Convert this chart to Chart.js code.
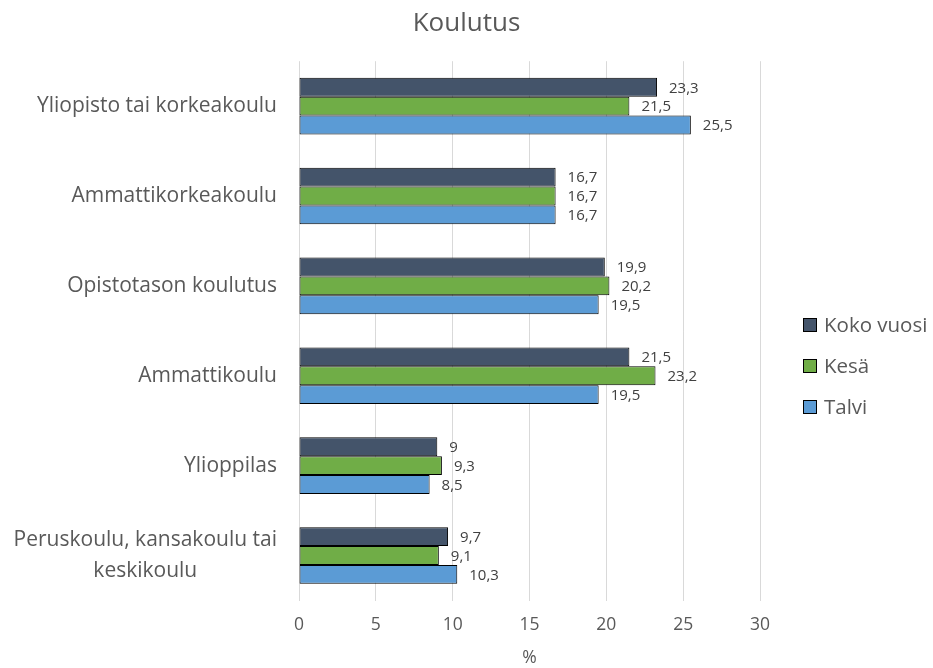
<!DOCTYPE html>
<html>
<head>
<meta charset="utf-8">
<script src="https://cdn.jsdelivr.net/npm/chart.js@4.4.1/dist/chart.umd.min.js"></script>
<style>
  html, body { margin: 0; padding: 0; background: #fff; }
  #wrap { width: 933px; height: 668px; }
</style>
</head>
<body>
<div id="wrap"><canvas id="chart" width="933" height="668"></canvas></div>
<script>
// categories top to bottom
const categories = [
  "Yliopisto tai korkeakoulu",
  "Ammattikorkeakoulu",
  "Opistotason koulutus",
  "Ammattikoulu",
  "Ylioppilas",
  ["Peruskoulu, kansakoulu tai", "keskikoulu"]
];
const seriesNames = ["Koko vuosi", "Kesä", "Talvi"];
const kokoVuosi = [23.3, 16.7, 19.9, 21.5, 9, 9.7];
const kesa = [21.5, 16.7, 20.2, 23.2, 9.3, 9.1];
const talvi = [25.5, 16.7, 19.5, 19.5, 8.5, 10.3];
const xTicks = [0, 5, 10, 15, 20, 25, 30];

const colors = ["#44546A", "#70AD47", "#5B9BD5"];
const FONT = "'Open Sans', 'Noto Sans', sans-serif";

// value labels next to bars, finnish decimal comma
const valueLabels = {
  id: "valueLabels",
  afterDatasetsDraw(chart) {
    const ctx = chart.ctx;
    ctx.save();
    ctx.font = "15px " + FONT;
    ctx.fillStyle = "#404040";
    ctx.textBaseline = "middle";
    ctx.textAlign = "left";
    chart.data.datasets.forEach((ds, i) => {
      chart.getDatasetMeta(i).data.forEach((bar, j) => {
        ctx.fillText(String(ds.data[j]).replace(".", ","), bar.x + 12, bar.y + 1);
      });
    });
    ctx.restore();
  }
};

// category labels: right aligned block, wrapped lines centred inside it (like Excel)
const categoryLabels = {
  id: "categoryLabels",
  afterDraw(chart) {
    const ctx = chart.ctx;
    const yScale = chart.scales.y;
    const right = chart.chartArea.left - 22;
    const lineH = 31;
    ctx.save();
    ctx.font = "21px " + FONT;
    ctx.fillStyle = "#595959";
    ctx.textBaseline = "middle";
    chart.data.labels.forEach((lab, i) => {
      const lines = Array.isArray(lab) ? lab : [lab];
      const widest = Math.max(...lines.map(l => ctx.measureText(l).width));
      const cx = right - widest / 2;
      const yc = yScale.getPixelForValue(i);
      ctx.textAlign = "center";
      lines.forEach((l, k) => {
        ctx.fillText(l, cx, yc + (k - (lines.length - 1) / 2) * lineH);
      });
    });
    ctx.restore();
  }
};

// legend drawn by hand so it can sit away from the plot
const sideLegend = {
  id: "sideLegend",
  afterDraw(chart) {
    const ctx = chart.ctx;
    ctx.save();
    ctx.font = "20.5px " + FONT;
    ctx.textBaseline = "middle";
    chart.data.datasets.forEach((ds, i) => {
      const y = 325 + i * 41;
      ctx.fillStyle = ds.backgroundColor;
      ctx.fillRect(803, y - 7, 14, 14);
      ctx.strokeStyle = "#000";
      ctx.lineWidth = 1;
      ctx.strokeRect(803.5, y - 6.5, 13, 13);
      ctx.fillStyle = "#595959";
      ctx.fillText(ds.label, 824, y + 1);
    });
    ctx.restore();
  }
};

const ctx = document.getElementById("chart").getContext("2d");
const chart = new Chart(ctx, {
  type: "bar",
  data: {
    labels: categories,
    datasets: [
      { label: seriesNames[0], data: kokoVuosi, backgroundColor: colors[0] },
      { label: seriesNames[1], data: kesa, backgroundColor: colors[1] },
      { label: seriesNames[2], data: talvi, backgroundColor: colors[2] }
    ].map(d => Object.assign(d, { borderColor: "#000", borderWidth: 1, borderSkipped: false }))
  },
  options: {
    indexAxis: "y",
    responsive: false,
    animation: false,
    categoryPercentage: 0.63,
    barPercentage: 1,
    layout: { padding: { left: 0, right: 0, top: 0, bottom: 1 } },
    plugins: {
      legend: { display: false },
      tooltip: { enabled: false },
      title: {
        display: true,
        text: "Koulutus",
        color: "#595959",
        font: { family: FONT, size: 26, weight: "normal" },
        padding: { top: 8, bottom: 22 }
      }
    },
    scales: {
      x: {
        min: 0,
        max: 30,
        afterBuildTicks(scale) { scale.ticks = xTicks.map(v => ({ value: v })); },
        grid: { color: "#d9d9d9", drawTicks: false },
        border: { display: false },
        ticks: { color: "#595959", padding: 14, font: { family: FONT, size: 17.5 } },
        title: {
          display: true,
          text: "%",
          color: "#595959",
          font: { family: FONT, size: 17.5, lineHeight: 1.0 },
          padding: { top: 0, bottom: 0 }
        }
      },
      y: {
        afterFit(scale) { scale.width = 299; },
        grid: { display: false, drawTicks: false },
        border: { display: false },
        ticks: { display: false }
      },
      // empty right-hand axis that only reserves room for the legend
      legendRoom: {
        type: "linear",
        position: "right",
        afterFit(scale) { scale.width = 173; },
        grid: { display: false, drawTicks: false },
        border: { display: false },
        ticks: { display: false }
      }
    }
  },
  plugins: [valueLabels, categoryLabels, sideLegend]
});
</script>
</body>
</html>
